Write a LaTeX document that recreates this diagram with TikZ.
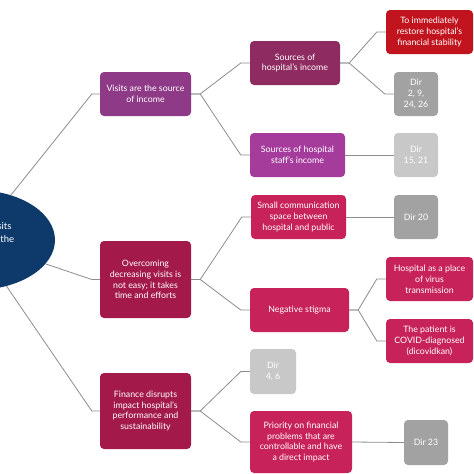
\documentclass[tikz,border=0pt]{standalone}
\usepackage{fontspec}
\setmainfont{Lato}
\usetikzlibrary{calc,shapes.geometric}
\definecolor{navy}{HTML}{0E3A6B}
\definecolor{plum}{HTML}{8E3A86}
\definecolor{wine}{HTML}{8E2B60}
\definecolor{orchid}{HTML}{A53C9C}
\definecolor{crimson}{HTML}{A3194A}
\definecolor{rasp}{HTML}{C8225A}
\definecolor{redbox}{HTML}{C2141E}
\definecolor{gdark}{HTML}{A2A2A2}
\definecolor{glight}{HTML}{C8C8C8}
\definecolor{linec}{HTML}{8C8C8C}
\tikzset{
  box/.style={rectangle, rounded corners=4pt, text=white, align=center,
    inner sep=1pt, font=\fontsize{8.8}{10.8}\selectfont},
  conn/.style={draw=linec, line width=0.8pt},
}
\newcommand{\conn}[2]{\draw[conn] (#1.east) -- ++(9,0) -- ($(#2.west)+(-9,0)$) -- (#2.west);}
\begin{document}
\begin{tikzpicture}[x=1pt,y=-1pt]
\useasboundingbox (0,0) rectangle (474,474);
\begin{scope}
\clip (0,0) rectangle (474,474);
\node[ellipse, fill=navy, minimum width=160, minimum height=100, inner sep=0pt] (ell) at (-25,240) {};
\node[text=white, align=center, font=\fontsize{9.5}{13}\selectfont, inner sep=0pt] (ellt) at (-23.5,240)
  {Decreasing visits\\and impact on the\\hospital};

% level 1
\node[box, fill=plum, minimum width=91, minimum height=44] (v1) at (145.5,94)
  {Visits are the source\\of income};
\node[box, fill=crimson, minimum width=91, minimum height=77] (v2) at (145.5,279.5)
  {Overcoming\\decreasing visits is\\not easy; it takes\\time and efforts};
\node[box, fill=crimson, minimum width=91, minimum height=76] (v3) at (145.5,411)
  {Finance disrupts\\impact hospital's\\performance and\\sustainability};

% level 2
\node[box, fill=wine, minimum width=90, minimum height=44] (s1) at (295,63)
  {Sources of\\hospital's income};
\node[box, fill=orchid, minimum width=95, minimum height=44] (s2) at (297.5,155)
  {Sources of hospital\\staff's income};
\node[box, fill=rasp, minimum width=95, minimum height=44] (s3) at (298.5,217)
  {Small communication\\space between\\hospital and public};
\node[box, fill=rasp, minimum width=99, minimum height=44] (s4) at (299.5,310)
  {Negative stigma};
\node[box, fill=glight, minimum width=46, minimum height=45] (s5) at (273,371.5)
  {Dir\\4, 6};
\node[box, fill=rasp, minimum width=102, minimum height=62] (s6) at (301,442)
  {Priority on financial\\problems that are\\controllable and have\\a direct impact};

% level 3
\node[box, fill=redbox, minimum width=87, minimum height=44] (t1) at (429.5,32)
  {To immediately\\restore hospital's\\financial stability};
\node[box, fill=gdark, minimum width=44, minimum height=44] (t2) at (416,94)
  {Dir\\2, 9,\\24, 26};
\node[box, fill=glight, minimum width=44, minimum height=44] (t3) at (416,155)
  {Dir\\15, 21};
\node[box, fill=gdark, minimum width=44, minimum height=44] (t4) at (416,217)
  {Dir 20};
\node[box, fill=rasp, minimum width=87, minimum height=44] (t5) at (429.5,279)
  {Hospital as a place\\of virus\\transmission};
\node[box, fill=rasp, minimum width=87, minimum height=44] (t6) at (429.5,341)
  {The patient is\\COVID-diagnosed\\(dicovidkan)};
\node[box, fill=gdark, minimum width=44, minimum height=45] (t7) at (426,442.5)
  {Dir 23};

% connectors from ellipse
\draw[conn] (ell) -- ($(v1.west)+(-8,0)$) -- (v1.west);
\draw[conn] (ell) -- ($(v2.west)+(-8,0)$) -- (v2.west);
\draw[conn] (ell) -- ($(v3.west)+(-8,0)$) -- (v3.west);

\conn{v1}{s1}
\conn{v1}{s2}
\conn{v2}{s3}
\conn{v2}{s4}
\conn{v3}{s5}
\conn{v3}{s6}
\conn{s1}{t1}
\conn{s1}{t2}
\draw[conn] (s2.east) -- (t3.west);
\draw[conn] (s3.east) -- (t4.west);
\conn{s4}{t5}
\conn{s4}{t6}
\draw[conn] (s6.east) -- (t7.west);
\end{scope}
\end{tikzpicture}
\end{document}
